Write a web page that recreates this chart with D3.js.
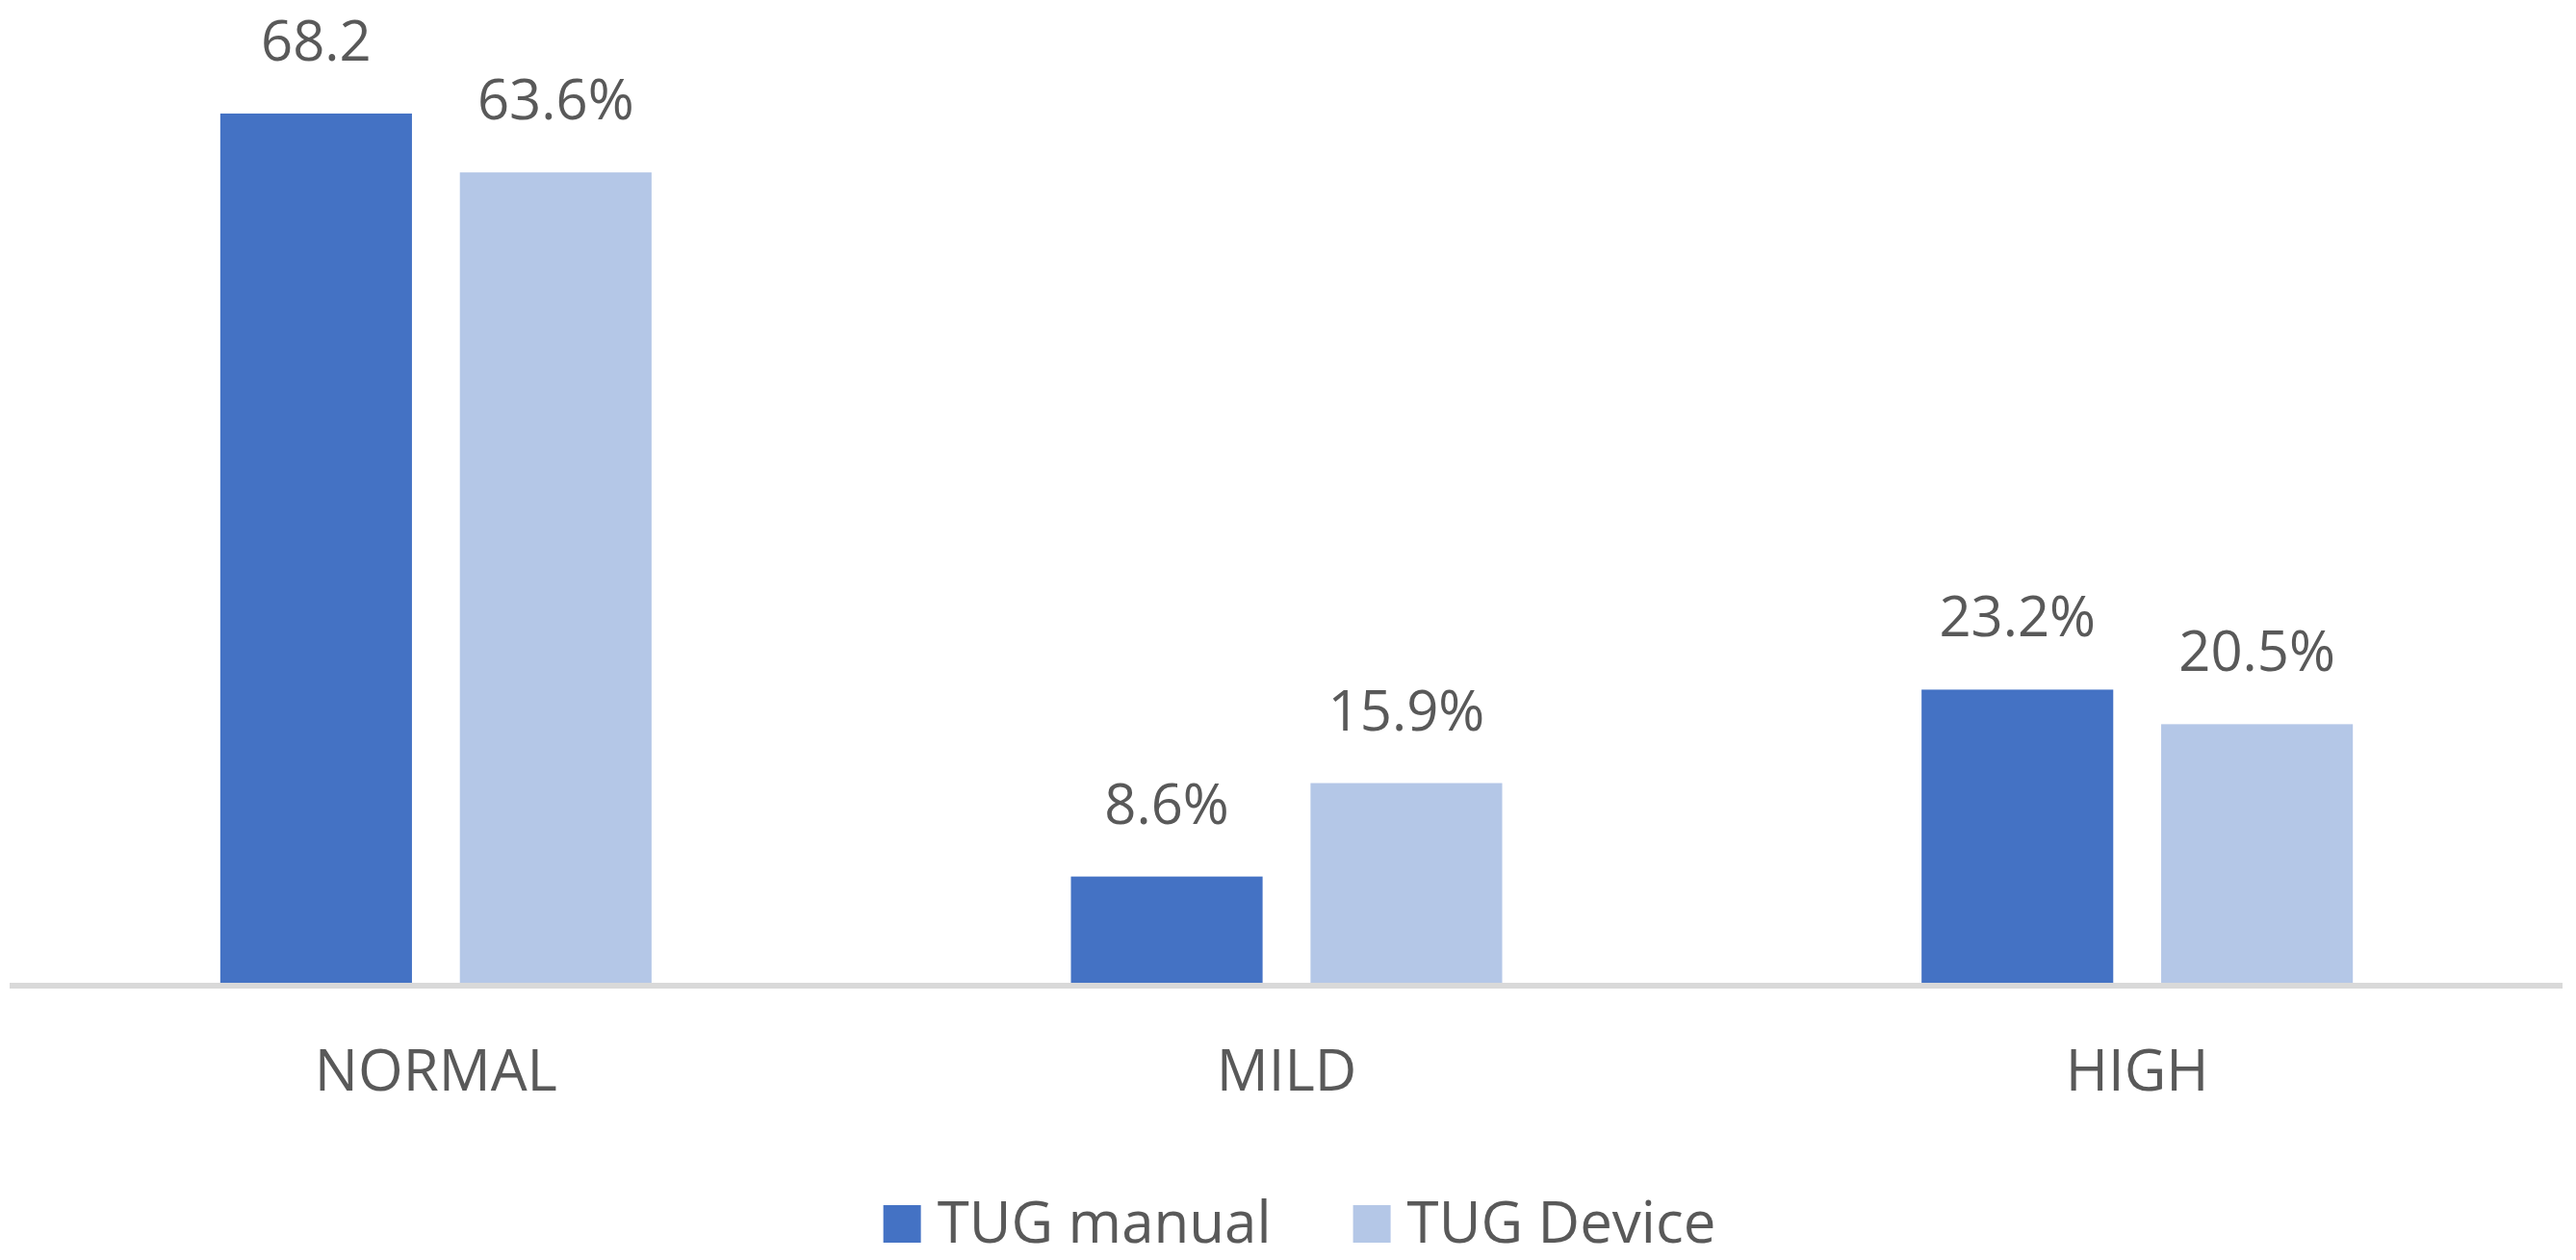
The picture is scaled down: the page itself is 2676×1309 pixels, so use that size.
<!DOCTYPE html>
<html>
<head>
<meta charset="utf-8">
<script src="https://cdn.jsdelivr.net/npm/d3@7"></script>
<style>
  html, body { margin: 0; padding: 0; background: #ffffff; }
  svg { display: block; }
  text { font-family: "Open Sans", "Noto Sans", sans-serif; fill: #595959; }
</style>
</head>
<body>
<svg id="chart" width="2676" height="1309"></svg>
<script>
// ---- data ----
const categories = ["NORMAL", "MILD", "HIGH"];
const seriesNames = ["TUG manual", "TUG Device"];
const tugManual = [68.2, 8.6, 23.2];
const tugDevice = [63.6, 15.9, 20.5];
const manualLabels = ["68.2", "8.6%", "23.2%"];
const deviceLabels = ["63.6%", "15.9%", "20.5%"];
const colors = ["#4472C4", "#B4C7E7"];

// ---- layout ----
const W = 2676, H = 1309;
const plotLeft = 11, plotRight = 2662;
const baseY = 1025, topY = 94;
const labelFont = 58;
const axisFont = 60;

const svg = d3.select("#chart");

const x = d3.scaleBand().domain(categories).range([plotLeft, plotRight]).padding(0);
const outerGap = x.bandwidth() * 0.2465;
const xs = d3.scaleBand().domain(seriesNames)
  .range([outerGap, x.bandwidth() - outerGap]).paddingInner(0.2);
const y = d3.scaleLinear().domain([0, 70]).range([baseY, topY]);

const seriesData = [
  { name: seriesNames[0], values: tugManual, labels: manualLabels, color: colors[0] },
  { name: seriesNames[1], values: tugDevice, labels: deviceLabels, color: colors[1] }
];

const groups = svg.selectAll("g.series").data(seriesData).enter().append("g").attr("class", "series");

groups.selectAll("rect").data(s => s.values.map((v, i) => ({ v, c: categories[i], s })))
  .enter().append("rect")
  .attr("x", d => x(d.c) + xs(d.s.name))
  .attr("y", d => y(d.v))
  .attr("width", xs.bandwidth())
  .attr("height", d => y(0) - y(d.v))
  .attr("fill", d => d.s.color);

groups.selectAll("text.lbl").data(s => s.values.map((v, i) => ({ v, c: categories[i], s, t: s.labels[i] })))
  .enter().append("text")
  .attr("class", "lbl")
  .attr("x", d => x(d.c) + xs(d.s.name) + xs.bandwidth() / 2)
  .attr("y", d => y(d.v) - 55)
  .attr("text-anchor", "middle")
  .style("font-size", labelFont + "px")
  .text(d => d.t);

// x axis
const xAxis = d3.axisBottom(x).tickSize(0).tickPadding(0);
const ax = svg.append("g").attr("transform", `translate(0,${1024})`).call(xAxis);
ax.select(".domain").attr("stroke", "#D9D9D9").attr("stroke-width", 6).attr("d", `M${plotLeft - 1},0H${plotRight}`);
ax.selectAll(".tick text")
  .attr("y", 109)
  .attr("dy", 0)
  .style("font-size", axisFont + "px")
  .style("font-family", '"Open Sans", "Noto Sans", sans-serif')
  .attr("fill", "#595959");

// legend
const legend = svg.append("g");
const items = legend.selectAll("g").data(seriesData).enter().append("g");
items.append("rect").attr("width", 39).attr("height", 39).attr("y", -39).attr("fill", d => d.color);
items.append("text").attr("x", 56).attr("y", 0).style("font-size", axisFont + "px").text(d => d.name);
const widths = [];
items.each(function () { widths.push(this.getBBox().width); });
const gap = 85;
const totalW = d3.sum(widths) + gap * (widths.length - 1);
const startX = (W - totalW) / 2 + 12;
items.attr("transform", (d, i) => {
  const tx = startX + d3.sum(widths.slice(0, i)) + gap * i;
  return `translate(${tx},1291)`;
});
</script>
</body>
</html>
